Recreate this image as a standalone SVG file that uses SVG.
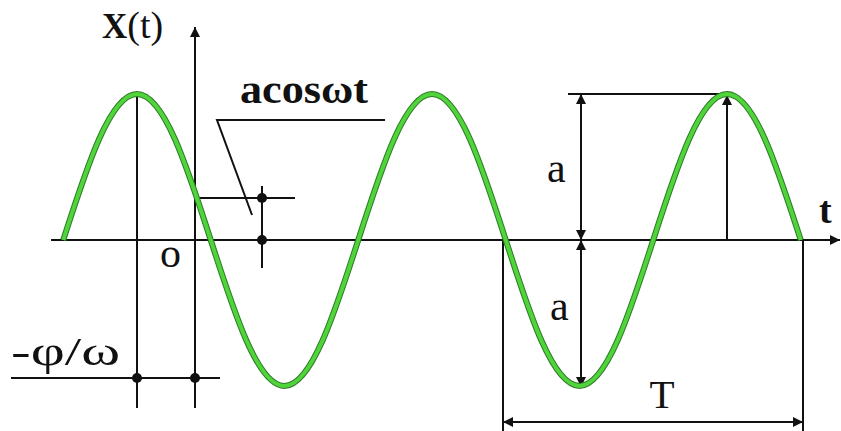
<svg xmlns="http://www.w3.org/2000/svg" width="841" height="431" viewBox="0 0 841 431">
<style>
.ln{stroke:#111;stroke-width:2;fill:none}
.dot{fill:#111}
.sr{font-family:"Liberation Serif","Times New Roman",serif;fill:#111}
.b{font-weight:bold}
</style>
<defs>
<marker id="ah" viewBox="0 0 10 10" refX="10" refY="5" markerWidth="10" markerHeight="10" markerUnits="userSpaceOnUse" orient="auto-start-reverse">
<path d="M0,0 L10,5 L0,10 z" fill="#111"/>
</marker>
</defs>
<rect width="841" height="431" fill="#fff"/>
<g id="connectors">
<line class="ln" x1="51" y1="240" x2="840" y2="240" marker-end="url(#ah)"/>
<line class="ln" x1="195" y1="408" x2="195" y2="27" marker-end="url(#ah)"/>
<line class="ln" x1="137" y1="95" x2="137" y2="408"/>
<line class="ln" x1="11" y1="378" x2="220" y2="378"/>
<line class="ln" x1="195" y1="198" x2="295" y2="198"/>
<line class="ln" x1="262" y1="186" x2="262" y2="268"/>
<polyline class="ln" points="385,120 217,120 252,215"/>
<line class="ln" x1="568" y1="94" x2="727" y2="94"/>
<line class="ln" x1="581" y1="240" x2="581" y2="94" marker-start="url(#ah)" marker-end="url(#ah)"/>
<line class="ln" x1="581" y1="240" x2="581" y2="387" marker-start="url(#ah)" marker-end="url(#ah)"/>
<line class="ln" x1="727" y1="240" x2="727" y2="95" marker-end="url(#ah)"/>
<line class="ln" x1="503" y1="240" x2="503" y2="431"/>
<line class="ln" x1="803" y1="240" x2="803" y2="431"/>
<line class="ln" x1="503" y1="422" x2="803" y2="422" marker-start="url(#ah)" marker-end="url(#ah)"/>
<circle class="dot" cx="137" cy="378" r="5"/>
<circle class="dot" cx="195" cy="378" r="5"/>
<circle class="dot" cx="262" cy="198" r="5"/>
<circle class="dot" cx="262" cy="240" r="5"/>
</g>
<g id="wave">
<path d="M63.25,240 c24.05,-74.8 47.06,-146 73.75,-146 s49.7,71.2 73.75,146 s47.06,146 73.75,146 s49.7,-71.2 73.75,-146 s47.06,-146 73.75,-146 s49.7,71.2 73.75,146 s47.06,146 73.75,146 s49.7,-71.2 73.75,-146 s47.06,-146 73.75,-146 s49.7,71.2 73.75,146" fill="none" stroke="#2f7a2a" stroke-width="6"/>
<path d="M63.25,240 c24.05,-74.8 47.06,-146 73.75,-146 s49.7,71.2 73.75,146 s47.06,146 73.75,146 s49.7,-71.2 73.75,-146 s47.06,-146 73.75,-146 s49.7,71.2 73.75,146 s47.06,146 73.75,146 s49.7,-71.2 73.75,-146 s47.06,-146 73.75,-146 s49.7,71.2 73.75,146" fill="none" stroke="#4fd43a" stroke-width="4"/>
</g>
<g id="labels">
<text class="sr" x="102" y="38" font-size="38"><tspan class="b" font-size="35">X</tspan>(t)</text>
<text class="sr b" x="240" y="103" font-size="40" textLength="128" lengthAdjust="spacingAndGlyphs">acosωt</text>
<text class="sr" x="160" y="267" font-size="42">o</text>
<text class="sr" x="11" y="365" font-size="40" textLength="109" lengthAdjust="spacingAndGlyphs">-φ/ω</text>
<text class="sr" x="547" y="182" font-size="42">a</text>
<text class="sr" x="550" y="320" font-size="42">a</text>
<text class="sr" x="662" y="408" font-size="41" text-anchor="middle">T</text>
<text class="sr b" x="819" y="223" font-size="38">t</text>
</g>
</svg>
